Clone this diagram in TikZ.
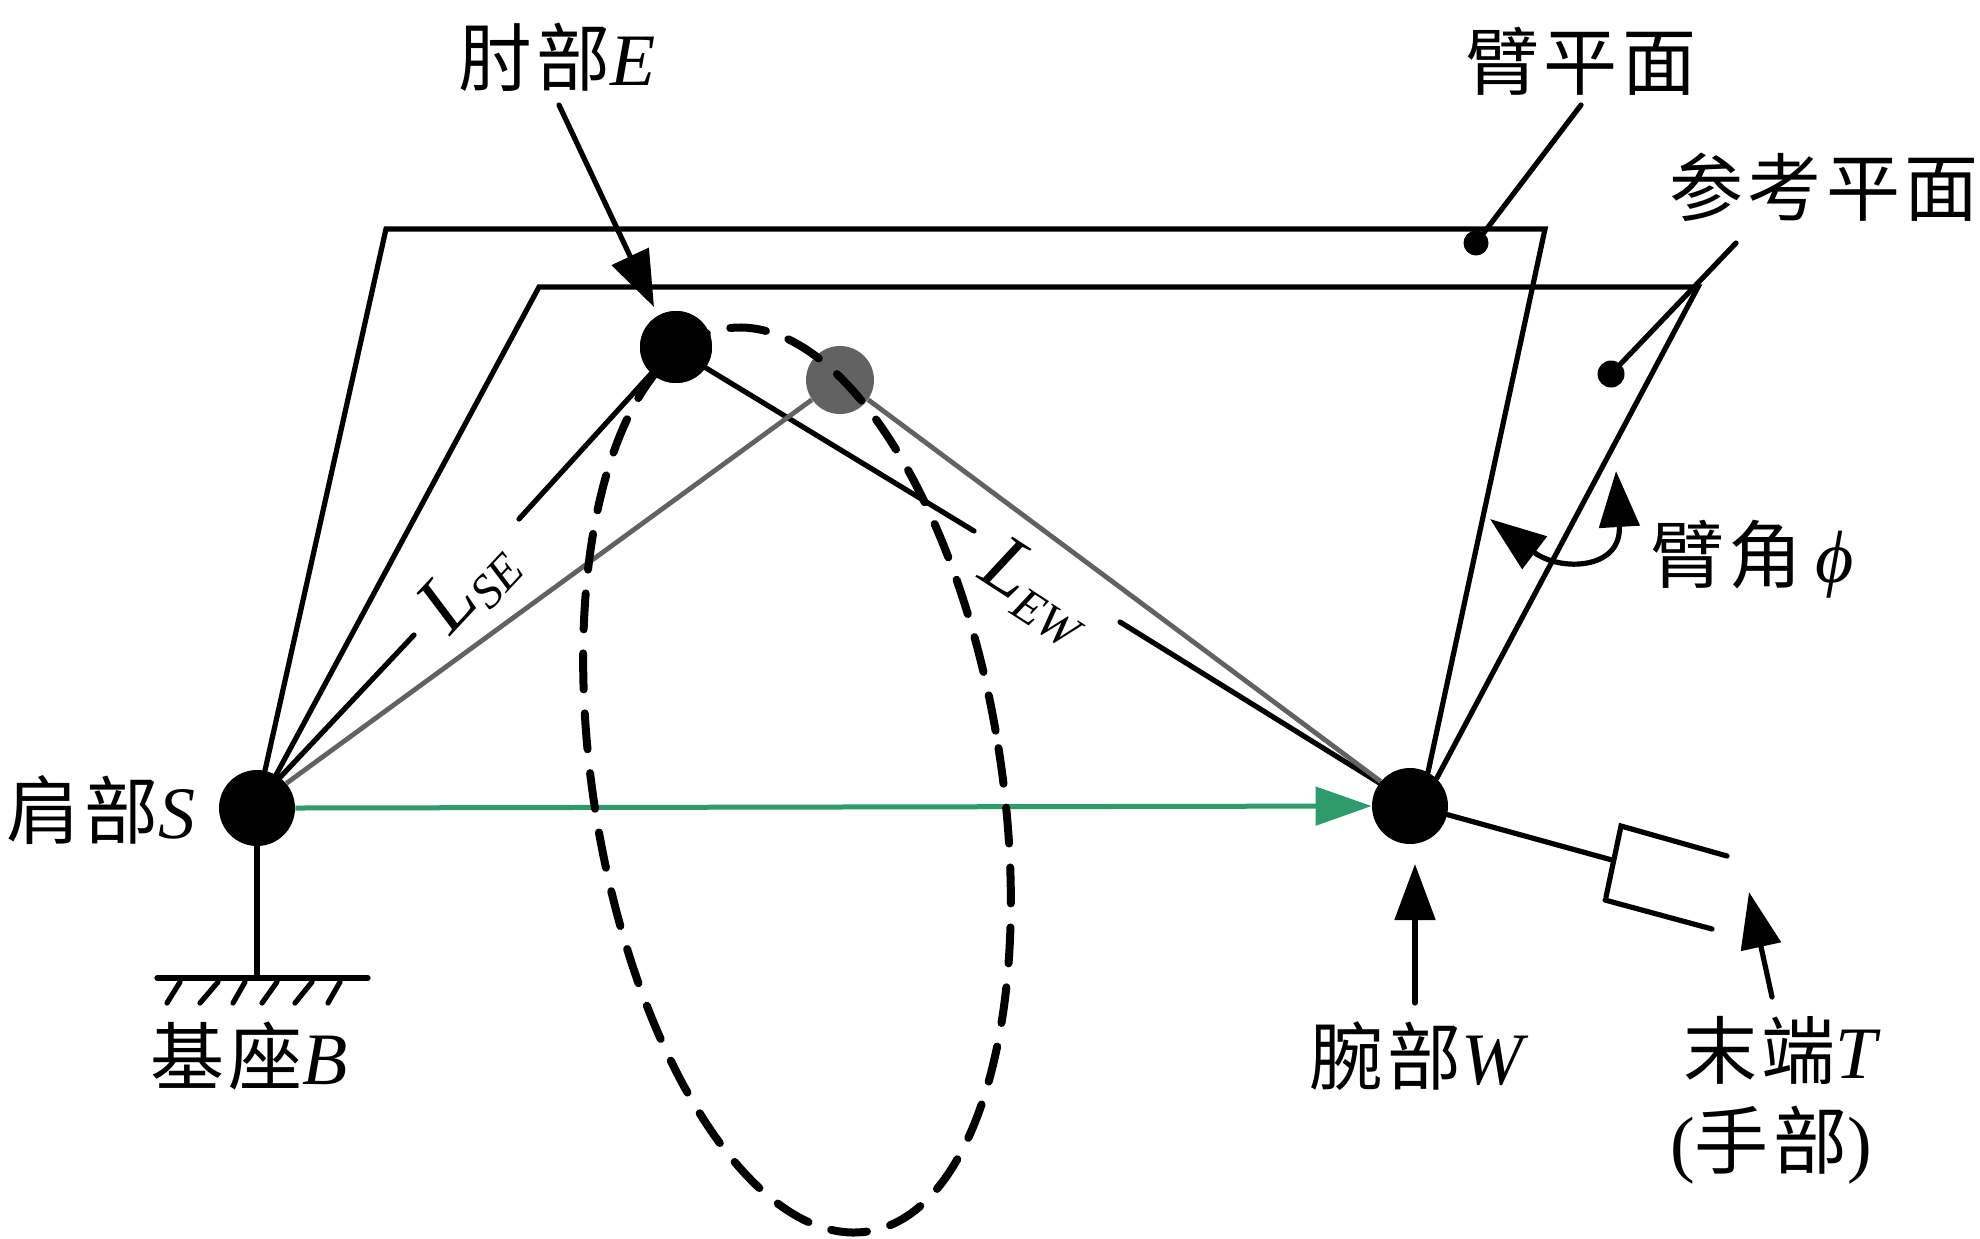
\documentclass[tikz,border=0pt]{standalone}
\usepackage{fontspec}
\setmainfont{Liberation Serif}
\newfontfamily\cjk[LetterSpace=6]{Noto Sans CJK SC}
\usetikzlibrary{arrows.meta}
\definecolor{armgreen}{RGB}{46,155,107}
\definecolor{armgray}{RGB}{98,98,98}
\tikzset{
  ln/.style={line width=2.6pt,line cap=round,black},
  gl/.style={line width=2.4pt,color=armgray},
  gr/.style={line width=2.5pt,color=armgreen},
  joint/.style={circle,fill=black,inner sep=0pt,minimum size=38pt},
  dotn/.style={circle,fill=black,inner sep=0pt,minimum size=12.5pt},
  lbl/.style={inner sep=0pt,font=\fontsize{37}{40}\selectfont},
  sym/.style={inner sep=0pt,font=\fontsize{41}{44}\selectfont\itshape},
  bigarrow/.style={ln,-{Triangle[length=28pt,width=20pt]}},
  ell/.style={line width=4pt,line cap=round,dash pattern=on 18pt off 12pt,black},
}
\begin{document}
\begin{tikzpicture}[x=0.5pt,y=-0.5pt]
\useasboundingbox (0,0) rectangle (1980,1238);
% named points
\coordinate (P1) at (386,229);
\coordinate (P2) at (1545,229);
\coordinate (R1) at (539,287);
\coordinate (R2) at (1698,287);
\coordinate (C) at (797,780);
% joints
\node[circle,fill=armgray,inner sep=0pt,minimum size=34pt] (E2) at (840,380) {};
\node[joint] (S) at (257,808) {};
\node[joint] (W) at (1410,806) {};
\node[joint,minimum size=36pt] (E) at (676,347) {};
% planes
\draw[ln,line join=miter] (S.78) -- (P1) -- (P2) -- (W.62);
\draw[ln,line join=miter] (S.60) -- (R1) -- (R2) -- (W.46);
% links
\coordinate (SEa) at (414,635);
\coordinate (SEb) at (519,519);
\coordinate (EWa) at (974,531);
\coordinate (EWb) at (1120,622);
\draw[ln] (S.53) -- (SEa);
\draw[ln] (SEb) -- (E.227);
\draw[ln] (E.-35) -- (EWa);
\draw[ln] (EWb) -- (W.143);
\draw[gl] (S.40) -- (E2.215);
\draw[gl] (E2.-35) -- (W.140);
\draw[gr,-{Triangle[length=28pt,width=19pt]}] (S.0) -- (W.180);
% elbow circle
\draw[ell,rotate around={9:(C)}] (C) ellipse [x radius=204,y radius=457];
\node[joint,minimum size=36pt] at (E) {};
% base
\coordinate (G0) at (257,978);
\coordinate (G1) at (157,978);
\coordinate (G2) at (368,978);
\draw[ln] (S.270) -- (G0);
\draw[ln] (G1) -- (G2);
\foreach \a/\b in {180/167,218/200,245/233,277/262,312/295,340/328}
  \draw[ln] (\a,982) -- (\b,1003);
% end effector
\coordinate (T0) at (1612,860);
\coordinate (T1) at (1727,856);
\coordinate (T2) at (1621,826);
\coordinate (T3) at (1606,897);
\coordinate (T4) at (1605,900);
\coordinate (T5) at (1712,929);
\draw[ln] (W.-13) -- (T0);
\draw[ln] (T1) -- (T2) -- (T3);
\draw[ln] (T4) -- (T5);
% dots and leaders
\node[dotn] (D1) at (1476,243) {};
\node[dotn,minimum size=13.5pt] (D2) at (1611,374) {};
\coordinate (L1) at (1581,105);
\coordinate (L2) at (1736,243);
\draw[ln] (L1) -- (D1);
\draw[ln] (L2) -- (D2);
% arrows
\coordinate (Aa) at (559,105);
\coordinate (Ab) at (654,307);
\draw[bigarrow] (Aa) -- (Ab);
\coordinate (Wa) at (1415,1003);
\coordinate (Wb) at (1415,864);
\draw[bigarrow] (Wa) -- (Wb);
\coordinate (Ta) at (1772,997);
\coordinate (Tb) at (1749,892);
\draw[bigarrow] (Ta) -- (Tb);
\coordinate (Ang1) at (1490,519);
\coordinate (Ang2) at (1616,471);
\draw[ln,{Triangle[length=28pt,width=20pt]}-{Triangle[length=28pt,width=20pt]}] (Ang1) .. controls (1560,572) and (1622,570) .. (Ang2);
% labels
\node[lbl] (tE) at (557,57) {{\cjk 肘部}\textit{E}};
\node[lbl] (tArm) at (1581,61) {\cjk 臂平面};
\node[lbl] (tRef) at (1824,187) {\cjk 参考平面};
\node[lbl] (tAng) at (1752,559) {{\cjk 臂角}\,\textit{ϕ}};
\node[lbl] (tW) at (1419,1056) {{\cjk 腕部}\textit{W}};
\node[lbl] (tT) at (1782,1050) {{\cjk 末端}\textit{T}};
\node[lbl] (tH) at (1771,1145) {({\cjk 手部})};
\node[lbl] (tS) at (101,810) {{\cjk 肩部}\textit{S}};
\node[lbl] (tB) at (249,1056) {{\cjk 基座}\textit{B}};
\node[sym,rotate=47] (tSE) at (469,586) {L\raisebox{-6pt}{\fontsize{24}{26}\selectfont SE}};
\node[sym,rotate=-33] (tEW) at (1036,592) {L\raisebox{-6pt}{\fontsize{24}{26}\selectfont EW}};
\end{tikzpicture}
\end{document}
